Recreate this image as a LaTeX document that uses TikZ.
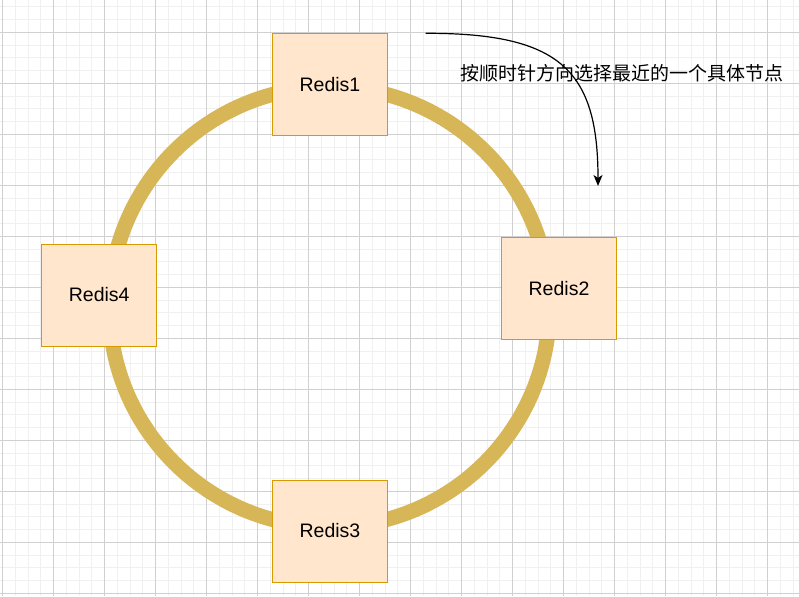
\documentclass[tikz,border=0pt]{standalone}
\usepackage{fontspec}
\setmainfont{Liberation Sans}
\newfontfamily\cjk{Noto Sans CJK SC}
\usetikzlibrary{arrows.meta}

\definecolor{ringcol}{HTML}{D6B656}
\definecolor{boxfill}{HTML}{FFE6CC}
\definecolor{boxline}{HTML}{D79B00}
\definecolor{majorgrid}{HTML}{D0D0D0}
\definecolor{minorgrid}{HTML}{F0F0F0}

\tikzset{
    redisbox/.style={draw=boxline, fill=boxfill, line width=1pt,
        minimum width=115pt, minimum height=102pt, inner sep=0pt,
        font=\fontsize{19.5}{23}\selectfont},
    ring/.style={draw=ringcol, line width=15pt},
    hint/.style={font=\cjk\fontsize{19}{23}\selectfont, inner sep=0pt, anchor=west},
    turn/.style={line width=1.2pt, -{Stealth[length=11pt, width=9pt, inset=3pt]}}
}

\begin{document}
\begin{tikzpicture}[x=1pt, y=-1pt]
    % Background and grid
    \fill[white] (0,0) rectangle (799,596);
    \useasboundingbox (0,0) rectangle (799,596);
    \foreach \i in {0,...,62}
        \draw[minorgrid, line width=1pt] ({2.7+12.75*\i},0) -- ++(0,596);
    \foreach \j in {0,...,46}
        \draw[minorgrid, line width=1pt] (0,{6.8+12.75*\j}) -- ++(799,0);
    \foreach \i in {0,...,15}
        \draw[majorgrid, line width=1pt] ({2.7+51*\i},0) -- ++(0,596);
    \foreach \j in {0,...,11}
        \draw[majorgrid, line width=1pt] (0,{32.3+51*\j}) -- ++(799,0);

    % Hash ring
    \draw[ring] (329.5,307) circle [radius=220pt];

    % Redis nodes
    \node[redisbox] (r1) at (330,85) {Redis1};
    \node[redisbox] (r2) at (559,288.5) {Redis2};
    \node[redisbox] (r3) at (330,531) {Redis3};
    \node[redisbox] (r4) at (99.2,295) {Redis4};

    % Clockwise hint
    \coordinate (turnstart) at (425.7,33.3);
    \coordinate (turnend) at (598,186);
    \draw[turn] (turnstart) .. controls (560,33) and (598,70) .. (turnend);
    \node[hint] (hinttext) at (460,73) {按顺时针方向选择最近的一个具体节点};

\end{tikzpicture}
\end{document}
